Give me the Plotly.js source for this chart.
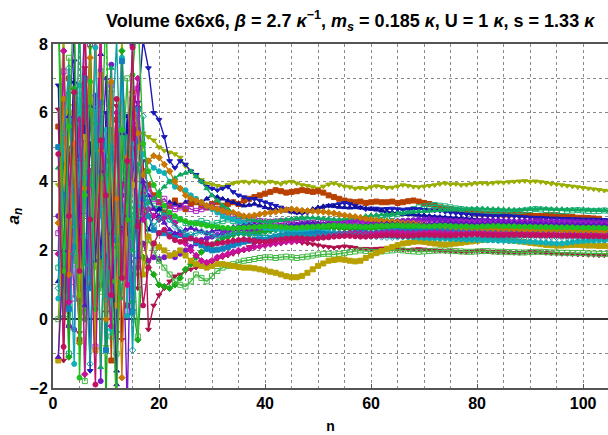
<!DOCTYPE html>
<html>
<head>
<meta charset="utf-8">
<script src="https://cdn.plot.ly/plotly-3.0.1.min.js"></script>
<style>html,body{margin:0;padding:0;background:#fff;}#chart{width:608px;height:435px;}</style>
</head>
<body>
<div id="chart"></div>
<script>
// a_n values for n = 1, 2, 3, ... (one array per run)
const olive = [3.9,8.5,2.1,6.2,0.5,4.8,7.9,1.5,5.4,-0.8,6.6,3.0,8.3,2.2,5.9,1.3,5.4,
 5.3,5.2,5.0,4.9,4.85,4.8,4.7,4.45,4.3,4.15,4.05,3.95,
 3.92,3.88,3.85,3.9,3.95,3.98,4.0,3.97,4.01,3.98,3.96,4.0,3.97,3.93,3.98,4.0,3.95,3.9,3.88,3.84,3.8,3.86,3.92,3.95,3.9,3.86,3.84,3.8,3.82,3.8,3.84,3.87,3.85,3.82,3.83,3.86,3.9,3.88,3.85,3.84,3.86,3.88,3.9,3.93,3.95,3.92,3.93,3.9,3.91,3.93,3.95,3.96,3.94,3.96,3.98,3.97,3.99,4.0,4.01,4.02,4.0,4.01,3.99,3.97,3.94,3.92,3.9,3.88,3.86,3.84,3.82,3.8,3.78,3.76,3.74,3.72];
const brown = [5.6,1.8,7.0,3.5,-0.6,6.2,2.4,8.6,1.0,4.6,-1.2,5.8,3.2,0.4,6.4,2.8,4.3,
 3.9,3.6,3.4,3.1,3.3,3.45,3.3,3.2,3.35,3.4,3.3,3.25,3.35,3.4,3.3,3.35,3.4,3.35,3.45,3.5,3.55,3.6,3.65,
 3.7,3.75,3.72,3.68,3.7,3.72,3.75,3.73,3.7,3.72,3.68,3.6,3.55,3.5,3.45,3.42,3.4,3.42,3.38,3.4,3.42,3.4,
 3.4,3.42,3.38,3.4,3.43,3.45,3.42,3.38,3.35,3.3,3.25,3.22,3.2,3.18,3.15,3.12,3.1,3.08,3.07,3.06,3.05,3.05,3.04,3.04,3.05,3.04,3.03,3.02,3.0,3.0,3.02,3.03,3.02,3.0,2.98,2.97,2.95,2.95,2.94,2.93,2.92];
const tealGreen = [1.5,5.0,-1.0,3.8,6.5,0.2,4.4,2.0,7.2,3.1,-0.5,5.2,1.6,4.0,2.6,5.5,3.2,
 3.4,3.3,3.2,3.0,2.9,2.85,2.9,2.8,2.75,2.8,2.85,2.8,2.75,2.8,2.85,2.9,2.85,2.8,2.78,2.8,2.82,2.85,2.8,2.78,2.76,2.78,2.8,2.85,2.88,2.9,
 2.88,2.85,2.82,2.8,2.78,2.76,2.8,2.82,2.84,2.86,2.9,2.92,2.9,2.92,2.95,2.98,3.0,3.05,3.1,3.15,3.2,3.25,3.28,3.3,3.32,3.3,3.28,3.25,3.22,3.2,3.18,3.17,3.16,3.15,3.14,3.15,3.14,3.13,3.12,3.13,3.14,3.16,3.18,3.2,3.19,3.17,3.16,3.15,3.14,3.15,3.16,3.17,3.16,3.15,3.14,3.15,3.16,3.15];
const blueDown = [6.8,0.8,3.2,7.5,2.0,5.6,-1.5,4.8,1.8,6.0,3.4,-0.4,5.0,2.6,4.2,6.3,8.1,
 7.3,6.0,5.8,5.3,4.6,4.4,4.6,4.5,4.3,4.2,4.0,3.85,3.8,3.75,3.8,3.85,3.7,3.6,3.55,3.5,3.5,3.45,3.4,3.35,3.3,3.25,3.2,3.15,3.1,3.08,3.1,3.15,3.2,3.25,3.3,3.32,3.35,3.38,3.35,3.3,3.25,3.2,3.22,
 3.22,3.2,3.21,3.22,3.2,3.19,3.2,3.21,3.2,3.18,3.17,3.16,3.15,3.12,3.1,3.08,3.06,3.05,3.04,3.03,3.02,3.01,3.0,3.0,3.01,3.0,2.99,2.98,2.97,2.96,2.95,2.95,2.94,2.93,2.93,2.92,2.92,2.91,2.91,2.9,2.9,2.9,2.89,2.89,2.88];
const blueUp = [1.1,4.5,-0.2,6.9,2.2,0.9,5.1,3.6,7.7,1.4,4.0,-1.5,3.3,5.9,0.3,6.2,2.9,
 2.6,3.0,3.2,3.3,3.4,3.35,3.3,3.4,3.5,3.45,3.4,3.5,3.6,3.55,3.5,3.45,3.4,3.35,3.3,3.32,3.35,3.3,3.25,3.22,3.2,3.18,3.15,3.12,3.1,3.12,3.15,3.2,3.25,3.28,3.3,3.28,3.26,3.25,3.24,3.25,3.24,3.22,3.2,3.18,3.15,3.12,3.1,3.08,3.06,3.05,3.04,3.03,3.02,3.0,2.98,2.97,2.96,2.95,2.94,2.93,2.92,2.91,2.9,2.9,2.89,2.88,2.88,2.87,2.87,2.86,2.86,2.85,2.85,2.85,2.86,2.86,2.85,2.85,2.84,2.84,2.83,2.83,2.82,2.82,2.81,2.8,2.8];
const purple = [3.0,1.2,-0.2,-0.3,4.5,8.8,2.0,6.5,-1.8,5.2,7.4,0.8,3.6,-2.5,4.8,1.5,2.2,
 1.7,1.8,1.75,1.8,1.85,1.8,1.9,2.0,2.1,2.2,2.3,2.35,2.4,2.45,2.5,2.55,2.6,2.62,2.6,2.58,2.6,2.62,2.64,2.66,2.68,2.7,2.68,2.66,2.65,2.66,2.68,2.7,2.72,2.75,2.78,2.8,2.82,2.84,2.85,2.86,2.85,2.84,2.83,2.82,2.82,2.83,2.84,2.85,2.86,2.87,2.88,2.9,2.9,2.91,2.9,2.89,2.88,2.87,2.86,2.86,2.85,2.85,2.86,2.87,2.87,2.86,2.86,2.85,2.85,2.84,2.84,2.85,2.85,2.86,2.86,2.85,2.85,2.85,2.84,2.84,2.84,2.84,2.83,2.83,2.83,2.82,2.82,2.82];
const violetSq = [2.5,7.2,4.0,0.6,5.5,3.0,8.0,-0.8,4.6,2.2,6.8,1.1,5.6,3.8,0.7,6.7,3.6,
 3.8,3.5,3.4,3.5,3.3,3.2,3.25,3.3,3.2,3.15,3.2,3.25,3.3,3.2,3.15,3.1,3.05,3.0,2.95,2.9,2.88,2.85,2.84,2.83,2.84,2.85,2.84,2.82,2.8,2.78,2.78,2.8,2.82,2.8,2.78,2.76,2.75,2.76,2.78,2.8,2.82,2.8,2.78,2.76,2.75,2.74,2.75,2.76,2.78,2.8,2.8,2.79,2.78,2.77,2.76,2.76,2.77,2.78,2.79,2.8,2.8,2.79,2.78,2.78,2.77,2.77,2.78,2.78,2.79,2.79,2.8,2.8,2.79,2.79,2.78,2.78,2.78,2.77,2.77,2.77,2.76,2.76,2.76,2.75,2.75,2.75,2.75,2.74];
const crimson = [6.1,-1.2,5.0,2.8,-0.4,7.3,1.0,4.4,8.5,0.2,3.7,6.2,-0.6,2.5,6.0,0.9,4.6,
 -0.3,0.4,0.7,0.9,1.1,1.25,1.3,1.4,1.45,1.5,1.55,1.6,1.7,1.75,1.8,1.85,1.9,1.95,2.0,2.1,2.2,2.25,2.3,2.28,2.3,2.32,2.3,2.28,2.25,2.22,2.2,2.18,2.15,2.12,2.1,2.08,2.1,2.12,2.1,2.08,2.05,2.05,2.04,2.05,2.06,2.05,2.04,2.03,2.02,2.02,2.03,2.04,2.03,2.02,2.0,1.99,1.98,1.98,1.97,1.96,1.96,1.97,1.98,1.98,1.97,1.96,1.95,1.95,1.94,1.93,1.93,1.94,1.95,1.95,1.94,1.93,1.92,1.91,1.9,1.9,1.89,1.88,1.88,1.87,1.87,1.86,1.86,1.85];
const green = [9.0,4.2,-1.1,6.7,3.5,0.0,8.4,2.5,5.9,-2.4,4.9,1.9,7.8,3.3,0.5,-0.6,1.8,
 1.5,1.3,1.0,0.95,0.9,1.0,1.2,1.45,1.6,1.8,1.95,2.05,2.15,2.25,2.35,2.4,2.45,2.5,2.5,2.48,2.5,2.52,2.55,2.58,2.6,2.6,2.58,2.56,2.55,2.56,2.58,2.6,2.62,2.64,2.65,2.66,2.65,2.64,2.63,2.62,2.62,2.63,2.64,2.65,2.66,2.67,2.68,2.68,2.67,2.66,2.65,2.64,2.64,2.65,2.66,2.66,2.65,2.64,2.63,2.63,2.62,2.62,2.63,2.64,2.64,2.63,2.62,2.62,2.61,2.61,2.6,2.6,2.61,2.62,2.62,2.61,2.6,2.6,2.6,2.59,2.59,2.58,2.58,2.58,2.57,2.57,2.57,2.56];
const greenSq = [0.0,3.3,7.6,1.6,4.9,-1.8,2.7,6.1,0.8,3.9,5.3,-1.0,4.1,7.0,2.4,-0.5,3.8,
 2.3,2.0,1.7,1.5,1.3,1.1,1.0,0.95,1.1,1.3,1.2,1.1,1.25,1.4,1.5,1.55,1.6,1.65,1.7,1.72,1.75,1.78,1.8,1.8,1.78,1.8,1.82,1.8,1.78,1.8,1.82,1.85,1.88,1.9,1.9,1.88,1.9,1.92,1.95,1.97,2.0,1.98,1.96,1.95,1.97,1.99,2.0,2.02,2.0,1.98,1.97,1.96,1.97,1.98,1.99,2.0,2.0,1.99,1.98,1.97,1.96,1.96,1.97,1.98,1.98,1.97,1.96,1.96,1.95,1.95,1.94,1.94,1.95,1.96,1.96,1.95,1.94,1.94,1.93,1.93,1.92,1.92,1.92,1.91,1.91,1.9,1.9,1.9];
const gold = [-1.2,4.0,6.0,2.3,0.7,5.3,3.4,-0.9,7.1,2.0,4.5,0.4,6.3,1.7,3.9,5.0,1.3,
 2.4,2.2,2.1,2.0,1.85,1.9,2.0,1.85,1.7,1.6,1.55,1.5,1.55,1.6,1.6,1.58,1.55,1.52,1.5,1.5,1.48,1.45,1.42,1.38,1.35,1.3,1.25,1.22,1.22,1.26,1.35,1.45,1.55,1.62,1.7,1.72,1.74,1.73,1.7,1.68,1.7,1.78,1.85,1.92,1.98,2.05,2.1,2.15,2.2,2.22,2.25,2.26,2.25,2.22,2.2,2.18,2.17,2.18,2.2,2.22,2.24,2.26,2.28,2.3,2.32,2.33,2.33,2.32,2.3,2.28,2.26,2.24,2.22,2.2,2.18,2.16,2.15,2.14,2.14,2.15,2.16,2.16,2.15,2.14,2.14,2.13,2.13,2.12];
const cyan = [0.6,5.7,2.9,-1.3,6.8,4.1,1.2,7.9,3.0,5.5,-0.3,2.4,7.6,0.1,5.1,3.3,4.8,
 4.6,4.4,4.3,4.25,4.0,3.85,3.8,3.75,3.6,3.5,3.4,3.3,3.2,3.1,3.0,2.95,2.9,2.85,2.8,2.76,2.72,2.68,2.65,2.64,2.62,2.6,2.6,2.58,2.57,2.56,2.56,2.55,2.55,2.54,2.53,2.52,2.5,2.49,2.48,2.47,2.46,2.46,2.45,2.45,2.44,2.43,2.42,2.41,2.4,2.39,2.38,2.37,2.36,2.35,2.35,2.34,2.34,2.33,2.33,2.32,2.31,2.31,2.3,2.3,2.29,2.29,2.28,2.28,2.27,2.27,2.26,2.25,2.25,2.24,2.23,2.22,2.21,2.2,2.2,2.22,2.24,2.26,2.27,2.28,2.28,2.29,2.29,2.3];
const steel = [5.0,3.6,0.3,2.1,4.7,7.0,0.9,3.4,6.3,-0.9,5.5,2.3,7.5,3.8,0.2,6.1,3.5,
 3.0,2.6,2.5,2.5,2.45,2.4,2.45,2.4,2.35,2.25,2.15,2.05,2.0,2.02,2.05,2.1,2.15,2.2,2.25,2.28,2.3,2.32,2.3,2.35,2.4,2.42,2.45,2.45,2.44,2.45,2.46,2.48,2.5,2.48,2.46,2.45,2.46,2.47,2.48,2.5,2.52,2.5,2.48,2.5,2.52,2.54,2.55,2.56,2.55,2.54,2.55,2.56,2.57,2.58,2.58,2.57,2.58,2.59,2.6,2.6,2.61,2.6,2.6,2.59,2.6,2.61,2.62,2.62,2.61,2.6,2.6,2.61,2.62,2.62,2.61,2.6,2.6,2.61,2.61,2.6,2.6,2.6,2.59,2.59,2.59,2.6,2.6,2.6];
const magenta = [1.9,7.8,0.5,3.7,5.8,-1.6,4.3,2.6,8.2,1.5,-0.2,6.0,3.9,1.0,5.7,7.0,2.9,
 3.2,3.0,2.9,2.95,3.0,2.8,2.5,2.2,2.0,1.85,1.7,1.65,1.7,1.8,1.85,1.9,1.95,2.0,2.02,2.05,2.1,2.12,2.15,2.18,2.2,2.22,2.25,2.25,2.28,2.3,2.32,2.35,2.38,2.4,2.42,2.45,2.47,2.48,2.5,2.5,2.49,2.48,2.48,2.49,2.5,2.51,2.52,2.52,2.51,2.5,2.5,2.5,2.51,2.52,2.52,2.51,2.5,2.5,2.49,2.49,2.5,2.5,2.51,2.51,2.5,2.5,2.5,2.49,2.49,2.5,2.5,2.5,2.5,2.5,2.49,2.49,2.49,2.48,2.48,2.48,2.48,2.47,2.47,2.47,2.47,2.46,2.46,2.46];
const seaGreen = [4.4,0.1,6.6,2.7,8.8,1.6,3.9,5.7,-1.4,4.2,7.3,2.1,0.6,5.3,2.0,4.5,3.6,
 3.4,3.5,3.7,3.85,4.0,4.1,4.2,4.25,4.3,4.15,4.0,3.8,3.6,3.45,3.3,3.2,3.1,3.0,2.95,2.9,2.88,2.85,2.84,2.85,2.86,2.88,2.9,2.92,2.93,2.95,2.96,2.95,2.94,2.93,2.92,2.9,2.9,2.92,2.94,2.96,2.98,3.0,3.02,3.03,3.04,3.05,3.06,3.07,3.08,3.1,3.12,3.13,3.14,3.15,3.16,3.17,3.18,3.18,3.19,3.2,3.2,3.21,3.22,3.22,3.21,3.2,3.2,3.19,3.19,3.18,3.18,3.19,3.2,3.2,3.21,3.21,3.2,3.2,3.2,3.19,3.19,3.18,3.18,3.18,3.17,3.17,3.17,3.16];
const orange = [2.8,6.4,1.3,5.1,-0.7,3.8,7.6,2.2,4.9,0.0,6.9,3.5,-1.7,4.7,6.6,5.4,
 4.2,4.6,4.75,4.7,4.5,4.3,4.0,3.8,3.6,3.5,3.45,3.4,3.3,3.25,3.2,3.15,3.1,3.1,3.05,3.0,3.0,3.02,3.05,3.08,3.1,3.12,3.15,3.18,3.2,3.18,3.16,3.15,3.14,3.13,3.12,3.1,3.08,3.05,3.02,3.0,2.98,2.95,2.92,2.9,2.88,2.86,2.85,2.84,2.82,2.8,2.79,2.78,2.76,2.75,2.74,2.72,2.71,2.7,2.69,2.68,2.67,2.66,2.66,2.65,2.65,2.64,2.64,2.63,2.63,2.62,2.62,2.62,2.61,2.61,2.61,2.6,2.6,2.6,2.6,2.59,2.59,2.59,2.58,2.58,2.58,2.58,2.57,2.57,2.57];
const violet = [-1.1,2.0,5.9,8.2,3.1,0.4,6.2,1.7,4.3,7.0,2.5,-1.9,5.4,3.0,8.0,1.8,4.0,
 3.6,3.2,3.0,2.8,2.6,2.5,2.55,2.6,2.65,2.6,2.55,2.5,2.55,2.6,2.62,2.65,2.68,2.7,2.72,2.74,2.75,2.74,2.72,2.7,2.7,2.71,2.72,2.74,2.76,2.78,2.8,2.79,2.78,2.77,2.76,2.75,2.74,2.73,2.72,2.72,2.73,2.74,2.75,2.76,2.77,2.78,2.78,2.77,2.76,2.76,2.75,2.75,2.76,2.77,2.78,2.79,2.8,2.8,2.79,2.78,2.78,2.77,2.77,2.78,2.78,2.79,2.79,2.8,2.8,2.8,2.79,2.79,2.78,2.78,2.78,2.77,2.77,2.77,2.76,2.76,2.76,2.75,2.75,2.75,2.74,2.74,2.74,2.74];
const teal = [0.9,5.4,7.3,1.9,4.6,2.4,-1.3,6.1,3.2,0.6,5.0,8.1,2.7,4.4,-0.9,3.0,5.9,
 3.0,2.7,2.9,3.1,2.9,2.7,2.6,2.5,2.45,2.5,2.55,2.5,2.45,2.4,2.42,2.45,2.48,2.5,2.48,2.46,2.45,2.44,2.43,2.44,2.45,2.46,2.45,2.44,2.43,2.42,2.41,2.4,2.41,2.42,2.43,2.44,2.45,2.46,2.45,2.44,2.43,2.42,2.41,2.4,2.39,2.38,2.38,2.39,2.4,2.41,2.42,2.42,2.41,2.4,2.4,2.39,2.38,2.37,2.36,2.35,2.35,2.36,2.37,2.38,2.38,2.37,2.36,2.36,2.37,2.38,2.38,2.39,2.39,2.4,2.4,2.39,2.39,2.38,2.38,2.38,2.37,2.37,2.37,2.37,2.36,2.36,2.36,2.36];
const brightGreen = [8.9,1.4,5.6,9.5,-1.7,3.6,6.9,0.3,4.1,9.2,1.1,-2.6,5.5,2.9,7.1,9.0,5.1,
 4.3,3.9,3.6,3.3,3.1,3.0,2.9,2.85,2.8,2.78,2.75,2.72,2.7,2.68,2.66,2.65,2.64,2.65,2.66,2.67,2.68,2.69,2.7,2.7,2.69,2.68,2.67,2.66,2.66,2.67,2.68,2.69,2.7,2.71,2.72,2.73,2.72,2.71,2.7,2.7,2.69,2.69,2.7,2.71,2.72,2.72,2.73,2.73,2.72,2.72,2.71,2.71,2.7,2.7,2.71,2.72,2.72,2.71,2.7,2.7,2.7,2.69,2.69,2.7,2.7,2.71,2.71,2.7,2.7,2.7,2.69,2.69,2.69,2.68,2.68,2.68,2.68,2.67,2.67,2.67,2.67,2.66,2.66,2.66,2.66,2.66,2.65,2.65];
const pink = [4.8,-0.8,3.0,6.6,1.4,8.7,2.9,-1.9,5.2,3.6,0.7,6.4,1.2,4.6,7.9,2.7,0.4,
 1.5,2.2,2.5,2.6,2.4,2.3,2.25,2.3,2.35,2.3,2.25,2.2,2.18,2.2,2.22,2.25,2.28,2.3,2.32,2.3,2.28,2.26,2.25,2.27,2.3,2.32,2.34,2.35,2.36,2.35,2.34,2.33,2.35,2.37,2.38,2.4,2.41,2.42,2.42,2.41,2.4,2.4,2.41,2.42,2.43,2.44,2.44,2.43,2.42,2.42,2.43,2.44,2.45,2.45,2.44,2.44,2.43,2.43,2.44,2.45,2.45,2.46,2.46,2.45,2.45,2.44,2.44,2.44,2.45,2.45,2.45,2.44,2.44,2.44,2.43,2.43,2.43,2.43,2.42,2.42,2.42,2.42,2.41,2.41,2.41,2.41,2.4,2.4];

const seriesValues = [olive, brown, tealGreen, blueDown, blueUp, purple, violetSq, crimson, green, greenSq,
  gold, cyan, steel, magenta, seaGreen, orange, violet, teal, brightGreen, pink];
const seriesColors = ['#9aae00','#b84000','#10b07a','#1a1ab8','#1010a0','#7a18c8','#b020c0','#b0104a','#18a818','#40b840',
  '#b8a000','#10b0b8','#1080c0','#c81098','#10a860','#c87800','#5a14c0','#109ca8','#20c020','#c01060'];
const seriesSymbols = ['triangle-down','square','square-open','triangle-down','triangle-up','circle','square-open','triangle-down','diamond','square-open',
  'square','circle','square','diamond','triangle-up','diamond','triangle-up','diamond-open','circle','circle'];

const xTickVals = [0, 20, 40, 60, 80, 100];
const yTickVals = [-2, 0, 2, 4, 6, 8];

const traces = seriesValues.map((vals, k) => ({
  type: 'scatter',
  mode: 'lines+markers',
  x: vals.map((v, i) => i + 1),
  y: vals,
  line: {color: seriesColors[k], width: 1.4},
  marker: {symbol: seriesSymbols[k], size: 5, color: seriesColors[k], line: {color: seriesColors[k], width: 1}},
  showlegend: false,
  hoverinfo: 'skip'
}));

const gridStyle = {showgrid: true, gridcolor: '#8a8a8a', griddash: '3px,3px', gridwidth: 1};
const fontFam = '"Liberation Sans", Arial, sans-serif';

const layout = {
  width: 608, height: 435,
  margin: {l: 53, r: 0, t: 44, b: 47},
  paper_bgcolor: '#fff', plot_bgcolor: '#fff',
  font: {family: fontFam, color: '#000'},
  title: {
    text: '<b>Volume 6x6x6, <i>β</i> = 2.7 <i>κ</i><sup>−1</sup>, <i>m<sub>s</sub></i> = 0.185 <i>κ</i>, U = 1 <i>κ</i>, s = 1.33 <i>κ</i></b>',
    font: {family: fontFam, size: 18, color: '#000'},
    xref: 'container', x: 0.576, xanchor: 'center',
    yref: 'container', y: 0.953, yanchor: 'middle'
  },
  xaxis: Object.assign({
    range: [0, 104.7], tickvals: xTickVals, ticktext: xTickVals.map(v => '<b>' + v + '</b>'),
    tickfont: {family: fontFam, size: 16, color: '#000'},
    ticks: 'inside', ticklen: 4, tickcolor: '#555',
    showline: true, mirror: true, linecolor: '#555', linewidth: 2,
    zeroline: false,
    minor: {dtick: 5, tick0: 0, showgrid: true, gridcolor: '#8a8a8a', griddash: '3px,3px', gridwidth: 1},
    title: {text: '<b>n</b>', font: {family: fontFam, size: 14, color: '#000'}, standoff: 10}
  }, gridStyle),
  yaxis: Object.assign({
    range: [-2, 8], tickvals: yTickVals, ticktext: yTickVals.map(v => '<b>' + (v < 0 ? '−' + Math.abs(v) : String(v)) + '</b>'),
    tickfont: {family: fontFam, size: 16, color: '#000'},
    ticks: 'inside', ticklen: 4, tickcolor: '#555',
    showline: true, mirror: false, linecolor: '#555', linewidth: 2,
    zeroline: true, zerolinecolor: '#333', zerolinewidth: 1.5,
    minor: {dtick: 1, tick0: 0, showgrid: true, gridcolor: '#8a8a8a', griddash: '3px,3px', gridwidth: 1},
    title: {text: '<b><i>a<sub>n</sub></i></b>', font: {family: fontFam, size: 17, color: '#000'}, standoff: 6}
  }, gridStyle)
};

Plotly.newPlot('chart', traces, layout, {displayModeBar: false, staticPlot: true});
</script>
</body>
</html>
